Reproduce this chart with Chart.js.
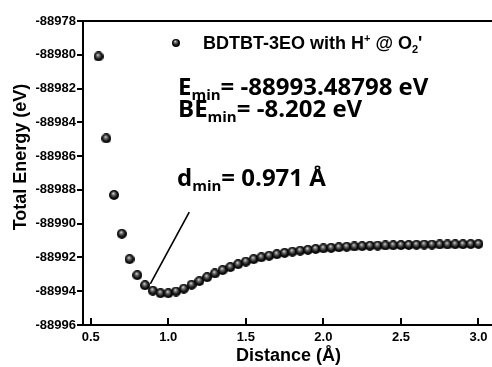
<!DOCTYPE html>
<html>
<head>
<meta charset="utf-8">
<script src="https://cdn.jsdelivr.net/npm/chart.js@4.4.0/dist/chart.umd.min.js"></script>
<style>
  html, body { margin: 0; padding: 0; background: #fff; overflow: hidden; }
</style>
</head>
<body>
<canvas id="myChart" width="500" height="367"></canvas>
<script>
// distance (Angstrom) vs total energy (eV)
var distances = [0.55, 0.60, 0.65, 0.70, 0.75, 0.80, 0.85, 0.90, 0.95, 1.00,
    1.05, 1.10, 1.15, 1.20, 1.25, 1.30, 1.35, 1.40, 1.45, 1.50,
    1.55, 1.60, 1.65, 1.70, 1.75, 1.80, 1.85, 1.90, 1.95, 2.00,
    2.05, 2.10, 2.15, 2.20, 2.25, 2.30, 2.35, 2.40, 2.45, 2.50,
    2.55, 2.60, 2.65, 2.70, 2.75, 2.80, 2.85, 2.90, 2.95, 3.00];
var energies = [-88980.10, -88984.95, -88988.30, -88990.60, -88992.10, -88993.05, -88993.65, -88993.97, -88994.12, -88994.12,
    -88994.02, -88993.85, -88993.62, -88993.40, -88993.17, -88992.95, -88992.75, -88992.57, -88992.40, -88992.25,
    -88992.10, -88991.99, -88991.90, -88991.81, -88991.73, -88991.66, -88991.60, -88991.55, -88991.50, -88991.46,
    -88991.43, -88991.40, -88991.37, -88991.35, -88991.33, -88991.31, -88991.30, -88991.29, -88991.28, -88991.27,
    -88991.26, -88991.25, -88991.24, -88991.24, -88991.23, -88991.23, -88991.22, -88991.22, -88991.21, -88991.20];

// pointer line towards the minimum
var pointerX = [0.884, 1.135];
var pointerY = [-88993.57, -88989.31];

var xTicks = [0.5, 1.0, 1.5, 2.0, 2.5, 3.0];
var yTicks = [-88978, -88980, -88982, -88984, -88986, -88988, -88990, -88992, -88994, -88996];

var legendLabel = 'BDTBT-3EO with H';
var yTitle = 'Total Energy (eV)';

// little shaded ball used as the marker
function makeBall(size) {
    var c = document.createElement('canvas');
    c.width = size;
    c.height = size;
    var g = c.getContext('2d');
    var r = size / 2;
    var grad = g.createRadialGradient(r - 0.8, r - 1.8, 0, r, r, r);
    grad.addColorStop(0, '#f0f0f0');
    grad.addColorStop(0.3, '#707070');
    grad.addColorStop(0.7, '#111');
    grad.addColorStop(1, '#000');
    g.fillStyle = grad;
    g.beginPath();
    g.arc(r, r, r, 0, Math.PI * 2);
    g.fill();
    return c;
}

var ball = makeBall(10);
var legendBall = makeBall(8);

// draws text pieces one after another (for subscripts / superscripts)
function drawParts(ctx, x, y, parts) {
    parts.forEach(function(p) {
        ctx.font = p.font;
        ctx.fillText(p.t, x, y + (p.dy || 0));
        x += ctx.measureText(p.t).width;
    });
}

var extras = {
    id: 'extras',
    afterDraw: function(chart) {
        var ctx = chart.ctx;
        var area = chart.chartArea;
        var xs = chart.scales.x;
        ctx.save();
        ctx.strokeStyle = '#000';
        ctx.lineWidth = 2;
        // top frame line
        ctx.beginPath();
        ctx.moveTo(area.left - 1, area.top);
        ctx.lineTo(area.right, area.top);
        ctx.stroke();
        // x ticks point inward
        xTicks.forEach(function(v) {
            var px = Math.round(xs.getPixelForValue(v));
            ctx.beginPath();
            ctx.moveTo(px, area.bottom);
            ctx.lineTo(px, area.bottom - 7);
            ctx.stroke();
        });

        ctx.fillStyle = '#000';

        // y axis title (sits a bit above the axis centre in the original)
        ctx.save();
        ctx.translate(21, 157);
        ctx.rotate(-Math.PI / 2);
        ctx.textAlign = 'center';
        ctx.textBaseline = 'middle';
        ctx.font = 'bold 18px "Liberation Sans", Arial, sans-serif';
        ctx.fillText(yTitle, 0, 0);
        ctx.restore();

        ctx.textBaseline = 'alphabetic';
        ctx.textAlign = 'left';

        // legend
        ctx.drawImage(legendBall, 172, 39);
        var lf = 'bold 18px "Liberation Sans", Arial, sans-serif';
        var sf = 'bold 11px "Liberation Sans", Arial, sans-serif';
        drawParts(ctx, 203, 49, [
            { t: legendLabel, font: lf },
            { t: '+', font: sf, dy: -7 },
            { t: ' @ O', font: lf },
            { t: '2', font: sf, dy: 4 },
            { t: '\'', font: lf }
        ]);

        // annotations
        var big = 'bold 24px "Open Sans", "Noto Sans", sans-serif';
        var sub = 'bold 15px "Open Sans", "Noto Sans", sans-serif';
        drawParts(ctx, 178, 95, [
            { t: 'E', font: big },
            { t: 'min', font: sub, dy: 5 },
            { t: '= -88993.48798 eV', font: big }
        ]);
        drawParts(ctx, 178, 117, [
            { t: 'BE', font: big },
            { t: 'min', font: sub, dy: 5 },
            { t: '= -8.202 eV', font: big }
        ]);
        drawParts(ctx, 177, 186, [
            { t: 'd', font: big },
            { t: 'min', font: sub, dy: 5 },
            { t: '= 0.971 Å', font: big }
        ]);
        ctx.restore();
    }
};

var tickFont = { family: '"Liberation Sans", Arial, sans-serif', size: 13, weight: 'bold' };
var titleFont = { family: '"Liberation Sans", Arial, sans-serif', size: 18, weight: 'bold' };

var ctx = document.getElementById('myChart').getContext('2d');
var myChart = new Chart(ctx, {
    type: 'scatter',
    data: {
        datasets: [{
            label: 'energy',
            data: distances.map(function(d, i) { return { x: d, y: energies[i] }; }),
            pointStyle: ball,
            showLine: false
        },
        {
            label: 'pointer',
            data: pointerX.map(function(d, i) { return { x: d, y: pointerY[i] }; }),
            showLine: true,
            borderColor: '#000',
            borderWidth: 1.6,
            pointRadius: 0
        }]
    },
    options: {
        responsive: false,
        animation: false,
        devicePixelRatio: 1,
        events: [],
        layout: { padding: { top: 21, right: 6, left: 0, bottom: 0 } },
        plugins: {
            legend: { display: false },
            tooltip: { enabled: false }
        },
        scales: {
            x: {
                type: 'linear',
                min: 0.45,
                max: 3.1,
                afterBuildTicks: function(s) { s.ticks = xTicks.map(function(v) { return { value: v }; }); },
                afterFit: function(s) { s.height = 42; },
                ticks: {
                    color: '#000',
                    font: tickFont,
                    padding: 5,
                    maxRotation: 0,
                    autoSkip: false,
                    callback: function(v) { return Number(v).toFixed(1); }
                },
                grid: { drawOnChartArea: false, drawTicks: false },
                border: { display: true, color: '#000', width: 2 },
                title: { display: true, text: 'Distance (Å)', color: '#000', font: titleFont, padding: { top: 0, bottom: 0 } }
            },
            y: {
                min: -88996,
                max: -88978,
                afterBuildTicks: function(s) { s.ticks = yTicks.map(function(v) { return { value: v }; }); },
                afterFit: function(s) { s.width = 83; },
                ticks: {
                    color: '#000',
                    font: tickFont,
                    padding: 1,
                    autoSkip: false,
                    callback: function(v) { return String(v); }
                },
                grid: { drawOnChartArea: false, tickLength: 6, lineWidth: 2, tickColor: '#000' },
                border: { display: true, color: '#000', width: 2 }
            }
        }
    },
    plugins: [extras]
});
</script>
</body>
</html>
